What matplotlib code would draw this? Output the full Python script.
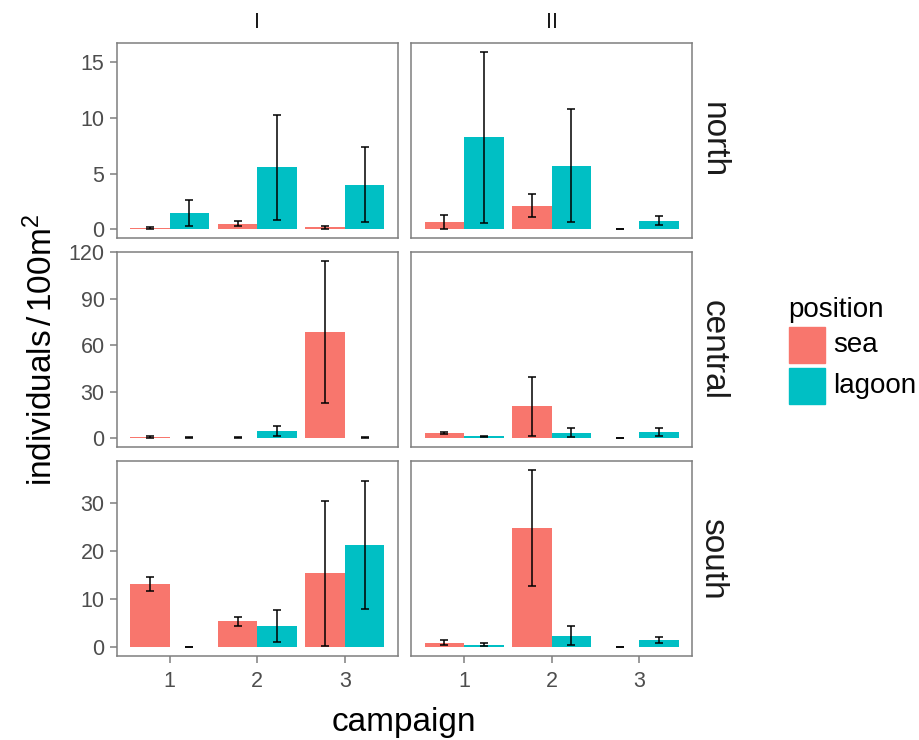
import numpy as np
import matplotlib
matplotlib.use('Agg')
import matplotlib.pyplot as plt
from matplotlib.patches import Rectangle

plt.rcParams['font.family'] = ['Liberation Sans', 'DejaVu Sans']
plt.rcParams['mathtext.fontset'] = 'custom'
plt.rcParams['mathtext.rm'] = 'Liberation Sans'
plt.rcParams['mathtext.it'] = 'Liberation Sans:italic'

regions = ['north', 'central', 'south']
periods = ['I', 'II']
campaigns = [1, 2, 3]
positions = ['sea', 'lagoon']
colors = ['#F8766D', '#00BFC4']

# mean density per region (rows) and period (cols), campaigns 1-3
sea_mean = [
    [[0.1, 0.5, 0.15], [0.65, 2.1, 0.0]],
    [[0.6, 0.4, 68.7], [3.2, 20.5, 0.0]],
    [[13.2, 5.4, 15.4], [0.9, 24.9, 0.0]],
]
sea_se = [
    [[0.05, 0.25, 0.12], [0.65, 1.05, 0.0]],
    [[0.6, 0.4, 45.8], [0.6, 19.0, 0.0]],
    [[1.4, 0.95, 15.2], [0.5, 12.1, 0.0]],
]
lagoon_mean = [
    [[1.45, 5.55, 4.0], [8.25, 5.7, 0.75]],
    [[0.4, 4.6, 0.4], [1.2, 3.4, 4.0]],
    [[0.0, 4.4, 21.3], [0.5, 2.4, 1.5]],
]
lagoon_se = [
    [[1.2, 4.7, 3.4], [7.7, 5.1, 0.4]],
    [[0.5, 3.5, 0.5], [0.5, 2.9, 2.7]],
    [[0.0, 3.4, 13.4], [0.3, 2.0, 0.7]],
]

yticks = [[0, 5, 10, 15], [0, 30, 60, 90, 120], [0, 10, 20, 30]]

W, H = 919, 740
fig, axes = plt.subplots(3, 2, figsize=(W / 100, H / 100), dpi=100, sharex=True)
fig.subplots_adjust(left=117 / W, right=692 / W, top=1 - 43 / H, bottom=1 - 656 / H,
                    wspace=14 / 281, hspace=14 / 195)

x = np.array(campaigns, dtype=float)
w = 0.45
grey = '#7F7F7F'

for r in range(3):
    top = max(np.max(np.add(sea_mean[r], sea_se[r])), np.max(np.add(lagoon_mean[r], lagoon_se[r])))
    for c in range(2):
        ax = axes[r][c]
        means = [sea_mean[r][c], lagoon_mean[r][c]]
        errs = [sea_se[r][c], lagoon_se[r][c]]
        for k in range(2):
            xs = x + (k - 0.5) * w
            ax.bar(xs, means[k], width=w, color=colors[k])
            ax.errorbar(xs, means[k], yerr=errs[k], fmt='none', ecolor='black',
                        elinewidth=1.1, capsize=2.6, capthick=1.1)
        ax.set_xlim(0.4, 3.6)
        ax.set_ylim(-0.05 * top, 1.05 * top)
        ax.set_yticks(yticks[r])
        ax.set_xticks(campaigns)
        for sp in ax.spines.values():
            sp.set_color(grey)
            sp.set_linewidth(1.1)
        ax.tick_params(colors=grey, labelcolor='#4D4D4D', labelsize=15.5,
                       length=5, width=1.1, pad=4)
        ax.tick_params(axis='x', pad=5.5)
        if c == 1:
            ax.tick_params(left=False, labelleft=False)
        if r < 2:
            ax.tick_params(bottom=False, labelbottom=False)
        if r == 0:
            ax.text(0.5, 1 + 21 / 195, periods[c], transform=ax.transAxes,
                    ha='center', va='center', fontsize=15.5, color='#1A1A1A')
        if c == 1:
            ax.text(1 + 21 / 280, 0.5, regions[r], transform=ax.transAxes, rotation=-90,
                    ha='center', va='center', fontsize=24, color='#1A1A1A')

fig.text(404 / W, 1 - 722 / H, 'campaign', ha='center', va='center', fontsize=24)
fig.text(42 / W, 1 - 350 / H, r'individuals$\,/\,$100m$^2$', ha='center', va='center',
         rotation=90, fontsize=24)

# legend
fig.text(788 / W, 1 - 310 / H, 'position', ha='left', va='center', fontsize=20)
for k in range(2):
    y0 = 327 + 41 * k
    fig.add_artist(Rectangle((789 / W, 1 - (y0 + 36) / H), 36 / W, 36 / H,
                             color=colors[k], transform=fig.transFigure))
    fig.text(833 / W, 1 - (y0 + 18) / H, positions[k], ha='left', va='center', fontsize=20)

fig.savefig('out.png', dpi=100)
